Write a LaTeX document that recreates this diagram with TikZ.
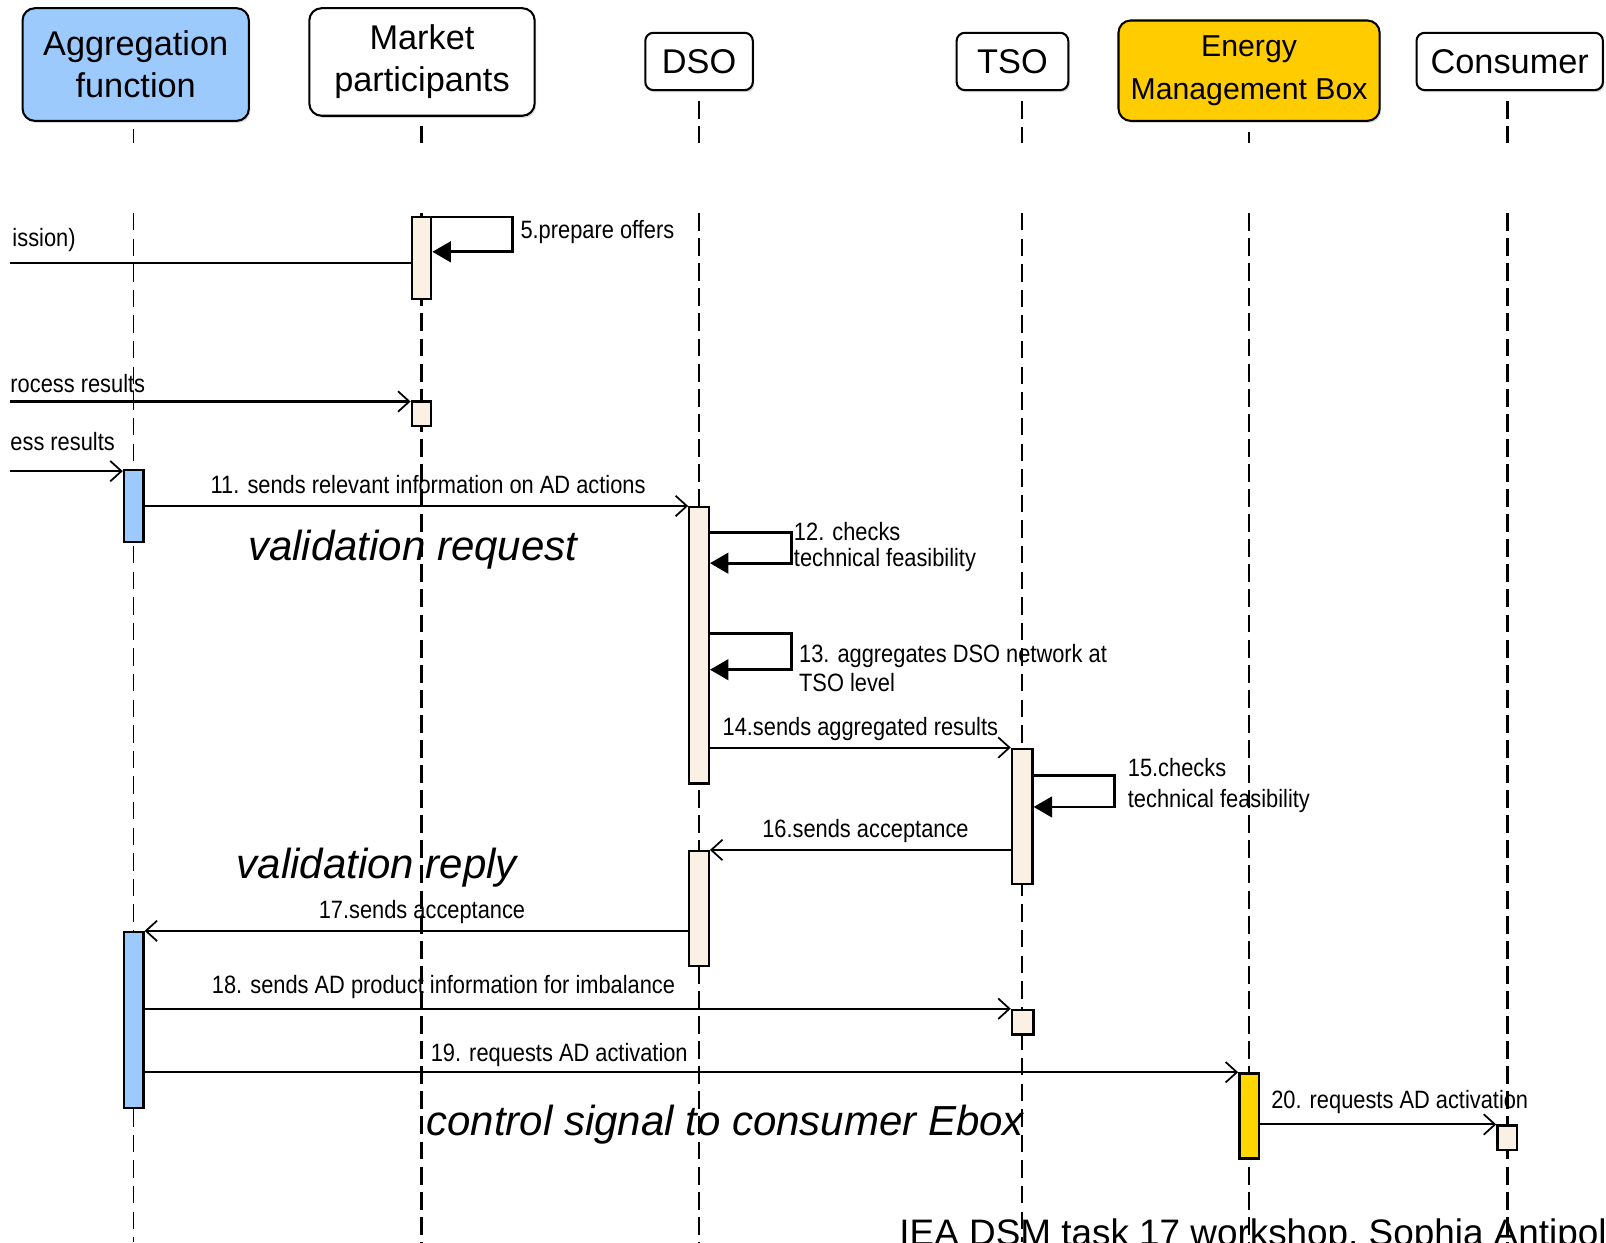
\documentclass[tikz,border=0pt]{standalone}
\usepackage{fontspec}
\setmainfont{Liberation Sans}
\newfontfamily\lblfont{Liberation Sans}[FakeStretch=0.87]
\usetikzlibrary{arrows.meta,shadows}
\definecolor{aggblue}{RGB}{157,202,252}
\definecolor{cream}{RGB}{250,240,228}
\definecolor{goldhdr}{RGB}{255,204,0}
\definecolor{goldbar}{RGB}{255,214,0}
\pgfdeclarelayer{txt}
\pgfdeclarelayer{lines}
\pgfsetlayers{txt,lines,main}
\begin{document}
\begin{tikzpicture}[x=1pt,y=-1pt,
  hdr/.style={draw=black, line width=2pt, rounded corners=12pt, align=center, inner sep=0pt,
    font=\fontsize{33.5}{41}\selectfont,
    drop shadow={shadow xshift=1.5pt,shadow yshift=-2pt,opacity=0.3}},
  actbar/.style={draw=black, line width=2.3pt, inner sep=0pt, minimum width=19pt},
  lifethick/.style={line width=2.6pt, dash pattern=on 17.5pt off 7pt},
  lifethin/.style={line width=1.6pt, dash pattern=on 17pt off 8pt},
  plainmsg/.style={line width=2pt},
  msg/.style={line width=2pt, -{Straight Barb[length=11pt,width=20pt,line width=1.7pt]}},
  selfm/.style={line width=2.8pt, -{Triangle[length=18pt,width=20pt]}},
  lbl/.style={font=\lblfont\fontsize{24.5}{26}\selectfont, inner sep=0pt},
  ital/.style={font=\itshape\fontsize{41}{44}\selectfont, inner sep=0pt}
]
\useasboundingbox (0,0) rectangle (1568,1213);

% header boxes
\node[hdr, fill=aggblue, minimum width=221pt, minimum height=110pt] (agg) at (132.5,63) {Aggregation\\function};
\node[hdr, fill=white, minimum width=220pt, minimum height=105pt] (mp) at (412,60.5) {Market\\participants};
\node[hdr, fill=white, minimum width=105pt, minimum height=56pt, rounded corners=8pt] (dso) at (682.5,60) {DSO};
\node[hdr, fill=white, minimum width=109pt, minimum height=56pt, rounded corners=8pt] (tso) at (988.5,60) {TSO};
\node[hdr, fill=goldhdr, minimum width=255pt, minimum height=98pt, font=\fontsize{29.5}{42}\selectfont] (emb) at (1219.5,69) {Energy\\Management Box};
\node[hdr, fill=white, minimum width=182pt, minimum height=56pt, rounded corners=8pt] (cons) at (1474,60) {Consumer};

% lifeline bottom ends
\coordinate (aggL) at (130.5,1213);
\coordinate (mpL) at (411.5,1213);
\coordinate (dsoL) at (682.5,1213);
\coordinate (tsoL) at (998,1213);
\coordinate (embL) at (1219.5,1213);
\coordinate (consL) at (1471.5,1213);

% activation bars
\node[actbar, fill=cream, minimum height=80pt] (mp1) at (411.5,252) {};
\node[actbar, fill=cream, minimum height=24pt] (mp2) at (411.5,404) {};
\node[actbar, fill=aggblue, minimum height=70pt] (ag1) at (130.5,494) {};
\node[actbar, fill=cream, minimum height=270pt] (ds1) at (682.5,630) {};
\node[actbar, fill=cream, minimum height=132pt, minimum width=20pt] (ts1) at (998,797) {};
\node[actbar, fill=cream, minimum height=112pt] (ds2) at (682.5,887) {};
\node[actbar, fill=aggblue, minimum height=172pt] (ag2) at (130.5,996) {};
\node[actbar, fill=cream, minimum height=24pt, minimum width=21pt] (ts2) at (998.5,998) {};
\node[actbar, fill=goldbar, minimum height=83pt] (eb1) at (1219.5,1089.5) {};
\node[actbar, fill=cream, minimum height=24pt] (cs1) at (1471.5,1111) {};

\coordinate (in1) at (10,257);
\coordinate (in2) at (10,392);
\coordinate (in3) at (10,460);

\begin{pgfonlayer}{lines}
% lifelines
\draw[lifethin] (aggL |- agg.south) ++(0,7) -- (aggL |- 0,140);
\draw[lifethin] (aggL |- 0,208) -- (aggL);
\draw[lifethick] (mpL |- mp.south) ++(0,9) -- (mpL |- 0,140);
\draw[lifethick] (mpL |- 0,208) -- (mpL);
\draw[lifethick] (dsoL |- dso.south) ++(0,10) -- (dsoL |- 0,140);
\draw[lifethick] (dsoL |- 0,208) -- (dsoL);
\draw[lifethin] (tsoL |- tso.south) ++(0,10) -- (tsoL |- 0,140);
\draw[lifethin] (tsoL |- 0,208) -- (tsoL);
\draw[lifethick] (embL |- emb.south) ++(0,10) -- (embL |- 0,140);
\draw[lifethick] (embL |- 0,208) -- (embL);
\draw[lifethick] (consL |- cons.south) ++(0,10) -- (consL |- 0,140);
\draw[lifethick] (consL |- 0,208) -- (consL);

% messages
\draw[plainmsg] (in1) -- (in1 -| mp1.west);
\draw[msg] (in2) -- (in2 -| mp2.west);
\draw[msg] (in3) -- (in3 -| ag1.west);
\draw[msg] (ag1.east) -- (ag1.east -| ds1.west);
\draw[msg] (ts1.north west -| ds1.east) -- (ts1.north west);
\draw[msg] (ds2.north east -| ts1.west) -- (ds2.north east);
\draw[msg] (ag2.north east -| ds2.west) -- (ag2.north east);
\draw[msg] (ts2.north west -| ag2.east) -- (ts2.north west);
\draw[msg] (eb1.north west -| ag2.east) -- (eb1.north west);
\draw[msg] (cs1.north west -| eb1.east) -- (cs1.north west);

% self messages
\draw[selfm] ([yshift=-1pt]mp1.north east) -- ++(78,0) -- ++(0,34) -- ([yshift=-35pt]mp1.north east);
\draw[selfm] ([yshift=-26pt]ds1.north east) -- ++(80,0) -- ++(0,30) -- ([yshift=-56pt]ds1.north east);
\draw[selfm] ([yshift=-125pt]ds1.north east) -- ++(80,0) -- ++(0,35) -- ([yshift=-160pt]ds1.north east);
\draw[selfm] ([yshift=-27pt]ts1.north east) -- ++(79,0) -- ++(0,31) -- ([yshift=-58pt]ts1.north east);
\end{pgfonlayer}

\begin{pgfonlayer}{txt}
\node[lbl, anchor=west] (l5) at (508,227) {5.prepare offers};
\node[lbl, anchor=west] (lin1) at (12,234) {ission)};
\node[lbl, anchor=west] (lin2) at (10,374) {rocess results};
\node[lbl, anchor=west] (lin3) at (10,431) {ess results};
\node[lbl] (l11) at (418,473) {11. sends relevant information on AD actions};
\node[lbl, anchor=west, align=left] (l12) at (775,534) {12. checks\\technical feasibility};
\node[lbl, anchor=west, align=left, font=\lblfont\fontsize{24.5}{28}\selectfont] (l13) at (780,652) {13. aggregates DSO network at\\TSO level};
\node[lbl] (l14) at (840,712) {14.sends aggregated results};
\node[lbl, anchor=west, align=left, font=\lblfont\fontsize{24.5}{31}\selectfont] (l15) at (1101,767) {15.checks\\technical feasibility};
\node[lbl] (l16) at (845,811) {16.sends acceptance};
\node[lbl] (l17) at (412,890) {17.sends acceptance};
\node[lbl] (l18) at (433,964) {18. sends AD product information for imbalance};
\node[lbl] (l19) at (546,1030) {19. requests AD activation};
\node[lbl, anchor=west] (l20) at (1241,1076) {20. requests AD activation};

\node[ital] (n1) at (403,537) {validation request};
\node[ital] (n2) at (368,847) {validation reply};
\node[ital] (n3) at (708,1098) {control signal to consumer Ebox};
\node[inner sep=0pt, anchor=base west, font=\fontsize{36}{40}\selectfont] (foot) at (878,1216) {IEA DSM task 17 workshop, Sophia Antipol};
\end{pgfonlayer}
\end{tikzpicture}
\end{document}
